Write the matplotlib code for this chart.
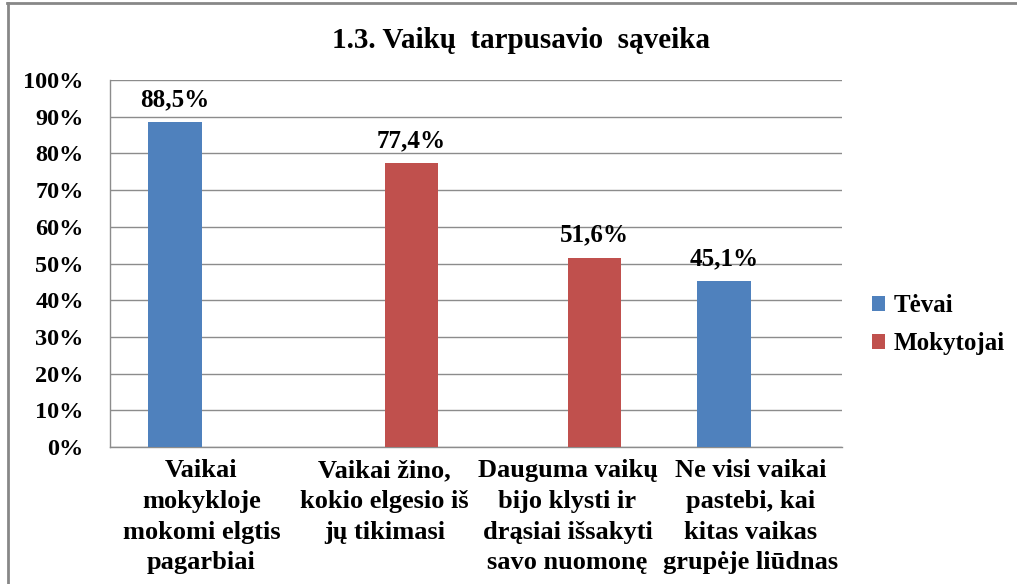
import numpy as np
import matplotlib
matplotlib.use("Agg")
import matplotlib.pyplot as plt
from matplotlib.lines import Line2D

plt.rcParams['font.family'] = ['Liberation Serif', 'DejaVu Serif']
plt.rcParams['font.weight'] = 'bold'

# data
categories = [
    "Vaikai\nmokykloje\nmokomi elgtis\npagarbiai",
    "Vaikai žino,\nkokio elgesio iš\njų tikimasi",
    "Dauguma vaikų\nbijo klysti ir\ndrąsiai išsakyti\nsavo nuomonę",
    "Ne visi vaikai\npastebi, kai\nkitas vaikas\ngrupėje liūdnas",
]
tevai = [88.5, np.nan, np.nan, 45.1]
mokytojai = [np.nan, 77.4, 51.6, np.nan]
series_names = ["Tėvai", "Mokytojai"]
yticks = [0, 10, 20, 30, 40, 50, 60, 70, 80, 90, 100]

blue = "#4F81BD"
red = "#C0504D"
gridc = "#8C8C8C"

fig = plt.figure(figsize=(10.17, 5.84), dpi=100)
ax = fig.add_axes([0.1082, 0.2346, 0.7198, 0.6284])

x = np.arange(len(categories))
w = 0.29
b1 = ax.bar(x - w / 2, tevai, w, color=blue, label=series_names[0], zorder=3)
b2 = ax.bar(x + w / 2, mokytojai, w, color=red, label=series_names[1], zorder=3)

for xs, vals in [(x - w / 2, tevai), (x + w / 2, mokytojai)]:
    for xi, v in zip(xs, vals):
        if np.isnan(v):
            continue
        ax.annotate(f"{v:.1f}%".replace(".", ","), (xi, v), xytext=(0, 8),
                    textcoords="offset points", ha="center", va="bottom",
                    fontsize=18, fontweight="bold")

ax.set_xlim(-0.5, 3.5)
ax.set_ylim(0, 100)
ax.set_yticks(yticks)
ax.set_yticklabels([f"{t}%" for t in yticks], fontsize=17.5, fontweight="bold")
ax.set_xticks(x)
ax.set_xticklabels(categories, fontsize=19, fontweight="bold", linespacing=1.42)
ax.tick_params(axis="x", length=0, pad=9)
ax.tick_params(axis="y", length=0, pad=19)

ax.grid(axis="y", color=gridc, linewidth=1, zorder=0)
for s in ["top", "right"]:
    ax.spines[s].set_visible(False)
for s in ["left", "bottom"]:
    ax.spines[s].set_color(gridc)
    ax.spines[s].set_linewidth(1)

fig.text(0.512, 0.93, "1.3. Vaikų  tarpusavio  sąveika", ha="center", va="center",
         fontsize=21, fontweight="bold")

fig.legend(handles=[b1, b2], labels=series_names, loc="center left",
           bbox_to_anchor=(0.857, 0.444), frameon=False, fontsize=18,
           handlelength=0.55, handleheight=0.55, handletextpad=0.35, labelspacing=0.6,
           borderaxespad=0, borderpad=0)

# outer frame lines (top and left)
fig.add_artist(Line2D([7 / 1017, 1], [1 - 3 / 584, 1 - 3 / 584], transform=fig.transFigure,
                      color="#878787", linewidth=2))
fig.add_artist(Line2D([7.5 / 1017, 7.5 / 1017], [0, 1 - 3 / 584], transform=fig.transFigure,
                      color="#878787", linewidth=2))

fig.savefig("out.png", dpi=100)
